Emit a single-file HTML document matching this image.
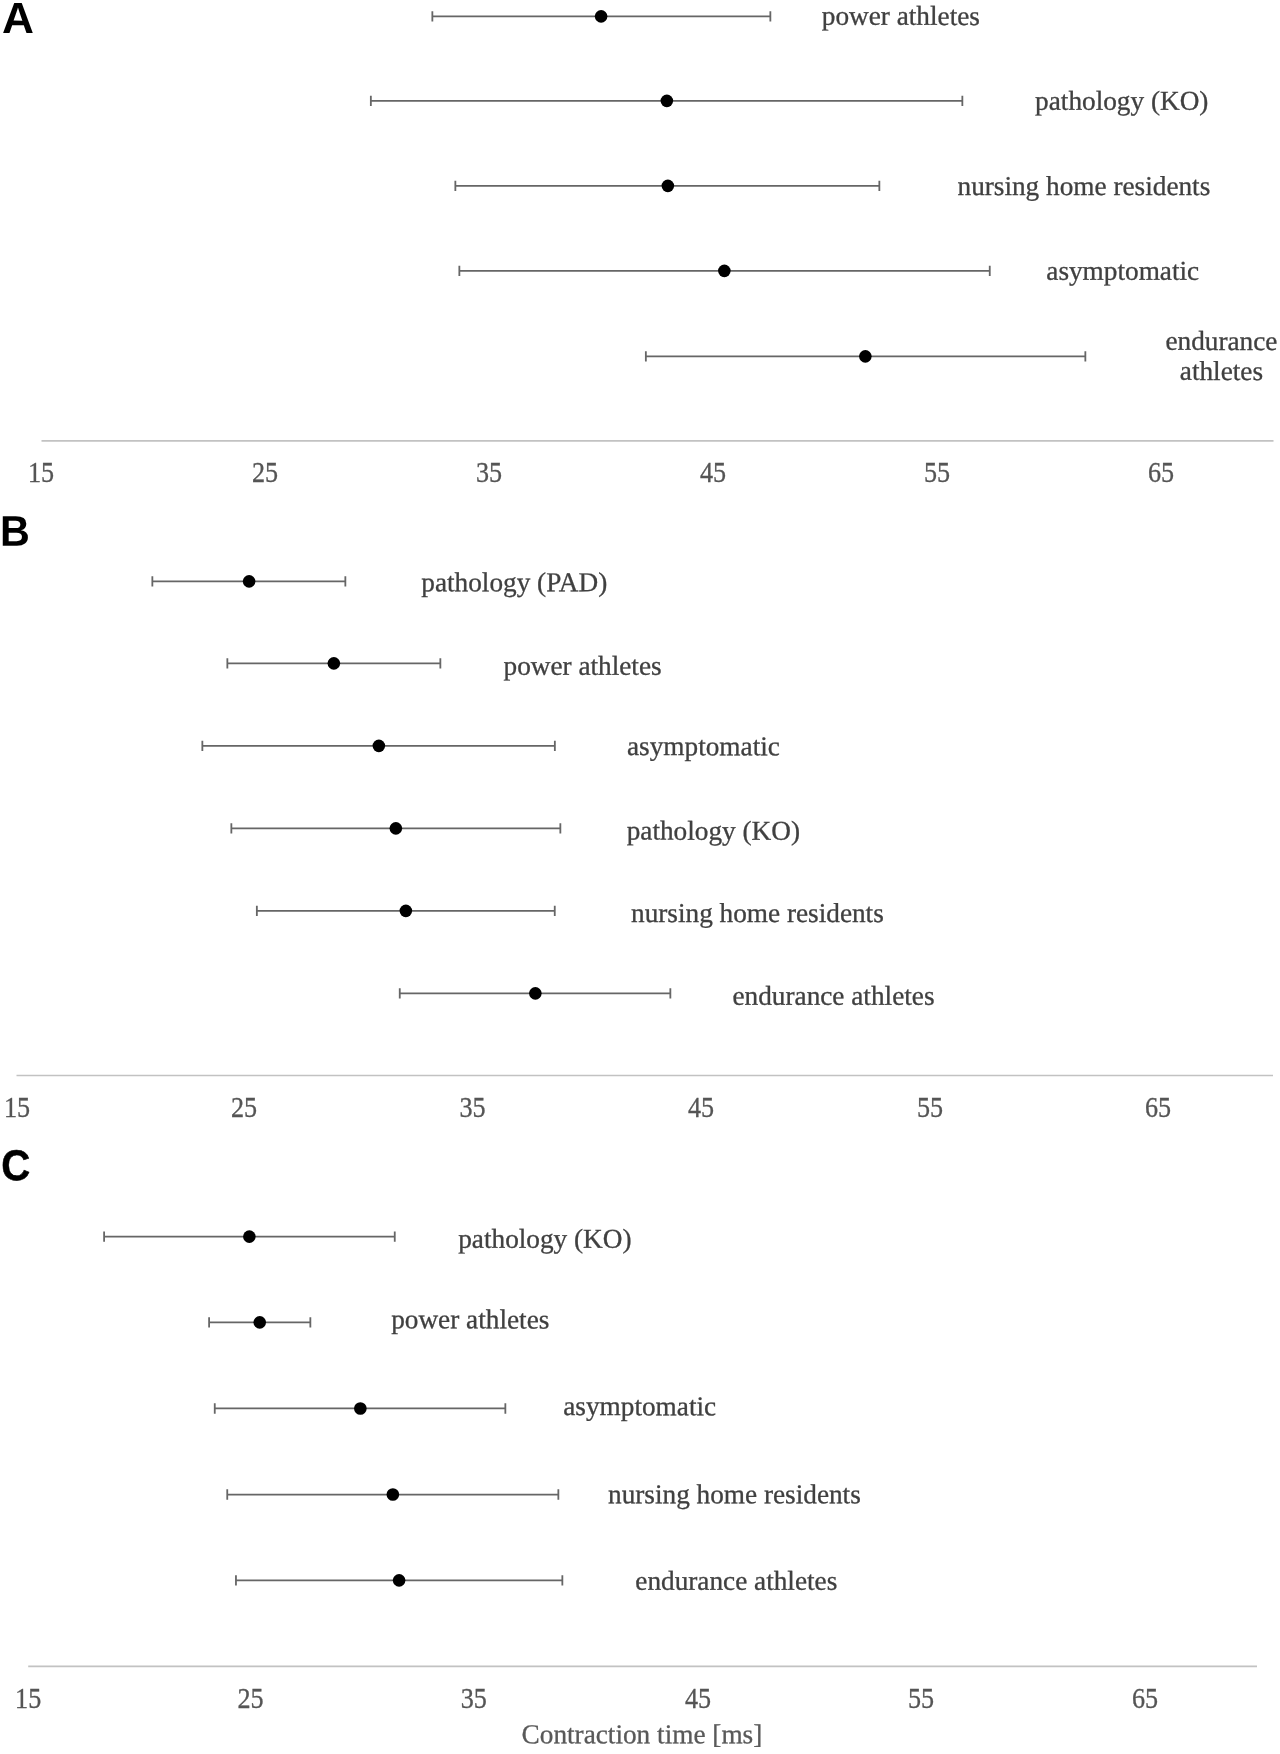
<!DOCTYPE html>
<html><head><meta charset="utf-8"><title>Contraction time</title>
<style>
html,body{margin:0;padding:0;background:#fff}
svg{display:block;will-change:transform}
.t{font-family:"Liberation Serif",serif;font-size:27.25px;fill:#404040;stroke:#404040;stroke-width:0.3px}
.p{font-family:"Liberation Sans",sans-serif;font-weight:bold;font-size:41px;fill:#000}
.l{stroke:#666666;stroke-width:1.8;fill:none}
.a{stroke:#c2c2c2;stroke-width:1.7;fill:none}
</style></head><body>
<svg width="1280" height="1754" viewBox="0 0 1280 1754">
<rect width="1280" height="1754" fill="#fff"/>
<line class="a" x1="41.5" y1="440.8" x2="1273.5" y2="440.8"/>
<text class="t" style="fill:#555;stroke:#555" transform="translate(41 481.9) scale(0.96 1.05)" text-anchor="middle">15</text>
<text class="t" style="fill:#555;stroke:#555" transform="translate(265 481.9) scale(0.96 1.05)" text-anchor="middle">25</text>
<text class="t" style="fill:#555;stroke:#555" transform="translate(489 481.9) scale(0.96 1.05)" text-anchor="middle">35</text>
<text class="t" style="fill:#555;stroke:#555" transform="translate(713 481.9) scale(0.96 1.05)" text-anchor="middle">45</text>
<text class="t" style="fill:#555;stroke:#555" transform="translate(937 481.9) scale(0.96 1.05)" text-anchor="middle">55</text>
<text class="t" style="fill:#555;stroke:#555" transform="translate(1161 481.9) scale(0.96 1.05)" text-anchor="middle">65</text>
<line class="a" x1="16.5" y1="1075.5" x2="1273" y2="1075.5"/>
<text class="t" style="fill:#555;stroke:#555" transform="translate(17 1116.8) scale(0.96 1.05)" text-anchor="middle">15</text>
<text class="t" style="fill:#555;stroke:#555" transform="translate(244 1116.8) scale(0.96 1.05)" text-anchor="middle">25</text>
<text class="t" style="fill:#555;stroke:#555" transform="translate(472.5 1116.8) scale(0.96 1.05)" text-anchor="middle">35</text>
<text class="t" style="fill:#555;stroke:#555" transform="translate(701 1116.8) scale(0.96 1.05)" text-anchor="middle">45</text>
<text class="t" style="fill:#555;stroke:#555" transform="translate(930 1116.8) scale(0.96 1.05)" text-anchor="middle">55</text>
<text class="t" style="fill:#555;stroke:#555" transform="translate(1158 1116.8) scale(0.96 1.05)" text-anchor="middle">65</text>
<line class="a" x1="28.2" y1="1666.4" x2="1257" y2="1666.4"/>
<text class="t" style="fill:#555;stroke:#555" transform="translate(28.2 1707.5) scale(0.96 1.05)" text-anchor="middle">15</text>
<text class="t" style="fill:#555;stroke:#555" transform="translate(250.5 1707.5) scale(0.96 1.05)" text-anchor="middle">25</text>
<text class="t" style="fill:#555;stroke:#555" transform="translate(473.75 1707.5) scale(0.96 1.05)" text-anchor="middle">35</text>
<text class="t" style="fill:#555;stroke:#555" transform="translate(698 1707.5) scale(0.96 1.05)" text-anchor="middle">45</text>
<text class="t" style="fill:#555;stroke:#555" transform="translate(921 1707.5) scale(0.96 1.05)" text-anchor="middle">55</text>
<text class="t" style="fill:#555;stroke:#555" transform="translate(1145 1707.5) scale(0.96 1.05)" text-anchor="middle">65</text>
<g transform="translate(0.35 0.35)">
<path class="l" d="M432 16H770M432 10.8V21.2M770 10.8V21.2"/>
<circle cx="600.75" cy="16" r="6.3" fill="#000"/>
<path class="l" d="M370.5 100.5H962M370.5 95.3V105.7M962 95.3V105.7"/>
<circle cx="666.5" cy="100.5" r="6.3" fill="#000"/>
<path class="l" d="M455 185.5H879M455 180.3V190.7M879 180.3V190.7"/>
<circle cx="667.5" cy="185.5" r="6.3" fill="#000"/>
<path class="l" d="M459 270.5H989.4M459 265.3V275.7M989.4 265.3V275.7"/>
<circle cx="724" cy="270.5" r="6.3" fill="#000"/>
<path class="l" d="M645.5 356H1085M645.5 350.8V361.2M1085 350.8V361.2"/>
<circle cx="865" cy="356" r="6.3" fill="#000"/>
<path class="l" d="M152 581H345M152 575.8V586.2M345 575.8V586.2"/>
<circle cx="248.75" cy="581" r="6.3" fill="#000"/>
<path class="l" d="M227 663H440M227 657.8V668.2M440 657.8V668.2"/>
<circle cx="333.5" cy="663" r="6.3" fill="#000"/>
<path class="l" d="M202 745.5H554.5M202 740.3V750.7M554.5 740.3V750.7"/>
<circle cx="378.5" cy="745.5" r="6.3" fill="#000"/>
<path class="l" d="M231 828H560M231 822.8V833.2M560 822.8V833.2"/>
<circle cx="395.5" cy="828" r="6.3" fill="#000"/>
<path class="l" d="M256.5 910.5H554.4M256.5 905.3V915.7M554.4 905.3V915.7"/>
<circle cx="405.5" cy="910.5" r="6.3" fill="#000"/>
<path class="l" d="M399.4 993H670M399.4 987.8V998.2M670 987.8V998.2"/>
<circle cx="535" cy="993" r="6.3" fill="#000"/>
<path class="l" d="M103.75 1236.25H394.4M103.75 1231.05V1241.45M394.4 1231.05V1241.45"/>
<circle cx="249" cy="1236.25" r="6.3" fill="#000"/>
<path class="l" d="M208.75 1322H310M208.75 1316.8V1327.2M310 1316.8V1327.2"/>
<circle cx="259.4" cy="1322" r="6.3" fill="#000"/>
<path class="l" d="M214.4 1408.1H505M214.4 1402.9V1413.3M505 1402.9V1413.3"/>
<circle cx="360" cy="1408.1" r="6.3" fill="#000"/>
<path class="l" d="M226.9 1494.2H558M226.9 1489V1499.4M558 1489V1499.4"/>
<circle cx="392.5" cy="1494.2" r="6.3" fill="#000"/>
<path class="l" d="M235.6 1580H562M235.6 1574.8V1585.2M562 1574.8V1585.2"/>
<circle cx="398.75" cy="1580" r="6.3" fill="#000"/>
</g>
<text class="t" x="821.8" y="24.8" transform="rotate(0.04 821.8 24.8)">power athletes</text>
<text class="t" x="1035.1" y="109.7" transform="rotate(0.04 1035.1 109.7)">pathology (KO)</text>
<text class="t" x="957.5" y="194.9" transform="rotate(0.04 957.5 194.9)">nursing home residents</text>
<text class="t" x="1046.3" y="279.7" transform="rotate(0.04 1046.3 279.7)">asymptomatic</text>
<text class="t" x="421.3" y="591.2" transform="rotate(0.04 421.3 591.2)">pathology (PAD)</text>
<text class="t" x="503.5" y="674.7" transform="rotate(0.04 503.5 674.7)">power athletes</text>
<text class="t" x="627" y="755.1" transform="rotate(0.04 627 755.1)">asymptomatic</text>
<text class="t" x="626.7" y="839.6" transform="rotate(0.04 626.7 839.6)">pathology (KO)</text>
<text class="t" x="631" y="921.9" transform="rotate(0.04 631 921.9)">nursing home residents</text>
<text class="t" x="732.5" y="1004.7" transform="rotate(0.04 732.5 1004.7)">endurance athletes</text>
<text class="t" x="458.25" y="1247.7" transform="rotate(0.04 458.25 1247.7)">pathology (KO)</text>
<text class="t" x="391.2" y="1328.3" transform="rotate(0.04 391.2 1328.3)">power athletes</text>
<text class="t" x="563.25" y="1415.1" transform="rotate(0.04 563.25 1415.1)">asymptomatic</text>
<text class="t" x="608" y="1503.2" transform="rotate(0.04 608 1503.2)">nursing home residents</text>
<text class="t" x="635.3" y="1589.7" transform="rotate(0.04 635.3 1589.7)">endurance athletes</text>
<text class="t" x="1221.4" y="349.9" text-anchor="middle" transform="rotate(0.04 1221.4 349.9)">endurance</text>
<text class="t" x="1221.4" y="379.9" text-anchor="middle" transform="rotate(0.04 1221.4 379.9)">athletes</text>
<text class="t" x="521.6" y="1743.2" transform="rotate(0.04 521.6 1743.2)" style="fill:#595959;stroke:#595959">Contraction time [ms]</text>
<text class="p" transform="translate(2.01 33.00) rotate(0.03) scale(1.079 1.064)">A</text>
<text class="p" transform="translate(-0.07 545.72) rotate(0.03) scale(1.006 1.048)">B</text>
<text class="p" transform="translate(1.26 1180.18) rotate(0.03) scale(0.978 1.054)" stroke="#000" stroke-width="0.5">C</text>
</svg>
</body></html>
